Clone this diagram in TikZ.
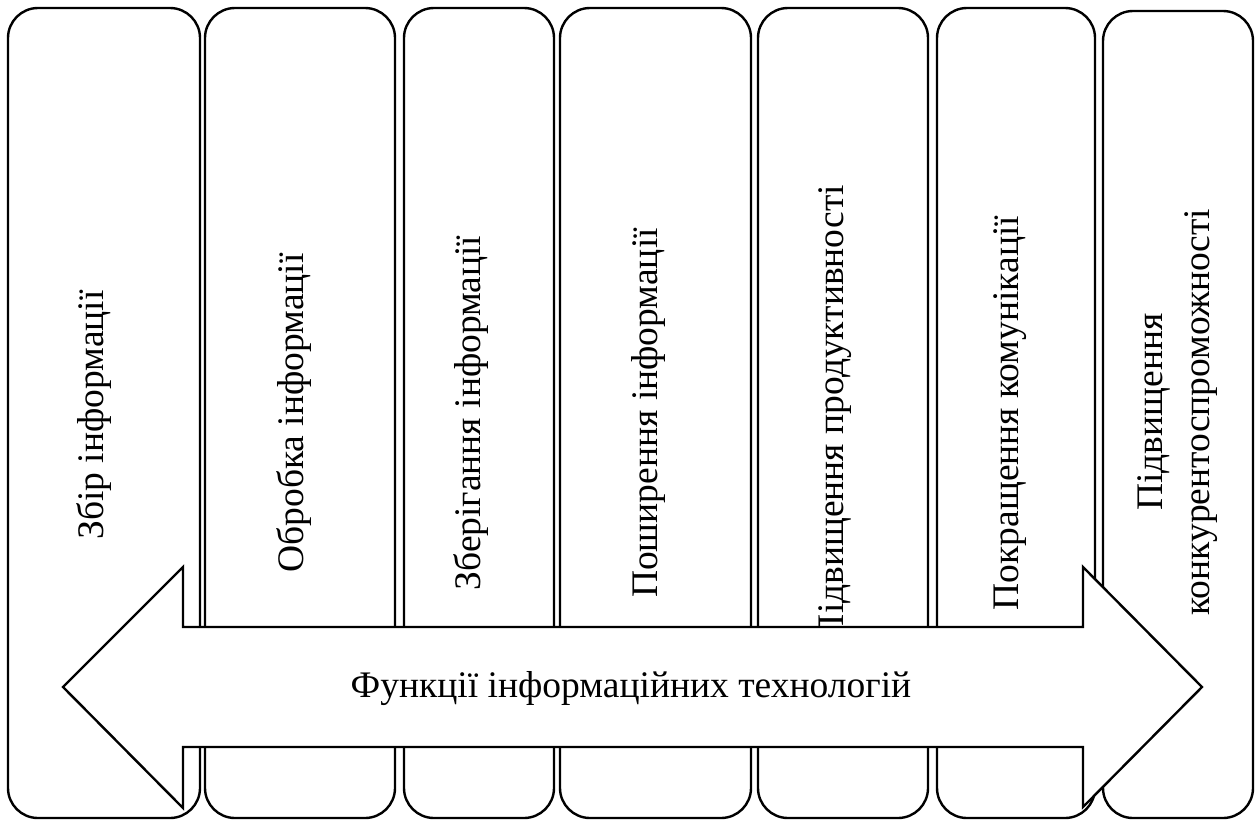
\documentclass[tikz,border=0pt]{standalone}
\usepackage{fontspec}
\setmainfont{Liberation Serif}
\begin{document}
\begin{tikzpicture}[x=1pt,y=-1pt,
  colbox/.style={draw, line width=2.4pt, rounded corners=30pt, inner sep=0pt},
  coltext/.style={rotate=90, anchor=base, inner sep=0pt, font=\fontsize{37.5}{47}\selectfont},
  bandarrow/.style={draw, line width=2.4pt, fill=white, line join=miter},
  bandtext/.style={anchor=base, inner sep=0pt, font=\fontsize{37.5}{47}\selectfont}]
\useasboundingbox (0,0) rectangle (1260,820);

% vertical columns, one per function
\node[colbox, minimum width=192pt, minimum height=810pt] (b1) at (104,413) {};
\node[colbox, minimum width=190pt, minimum height=810pt] (b2) at (300,413) {};
\node[colbox, minimum width=150pt, minimum height=810pt] (b3) at (479,413) {};
\node[colbox, minimum width=191pt, minimum height=810pt] (b4) at (655.5,413) {};
\node[colbox, minimum width=170pt, minimum height=810pt] (b5) at (843,413) {};
\node[colbox, minimum width=158pt, minimum height=810pt] (b6) at (1016,413) {};
\node[colbox, minimum width=150pt, minimum height=807pt] (b7) at (1178,414.5) {};

% column labels, reading upwards
\node[coltext] (t1) at ([xshift=-1pt,yshift=-2pt]b1.center) {Збір інформації};
\node[coltext] (t2) at ([xshift=3pt]b2.center) {Обробка інформації};
\node[coltext] (t3) at ([xshift=1pt]b3.center) {Зберігання інформації};
\node[coltext] (t4) at ([xshift=1.5pt]b4.center) {Поширення інформації};
\node[coltext] (t5) at ([xshift=0pt]b5.center) {Підвищення продуктивності};
\node[coltext] (t6) at ([xshift=2pt]b6.center) {Покращення комунікації};
\node[coltext, anchor=center, align=center] (t7) at ([xshift=0pt,yshift=2.5pt]b7.center)
  {Підвищення\\конкурентоспроможності};

% double-headed band across the columns
\coordinate (lt) at (63,687);
\coordinate (rt) at (1202,687);
\draw[bandarrow] (lt) -- (183,567) -- (183,627) -- (1083,627) -- (1083,567)
  -- (rt) -- (1083,807) -- (1083,747) -- (183,747) -- (183,808) -- cycle;
\node[bandtext] (band) at (631,697) {Функції інформаційних технологій};
\end{tikzpicture}
\end{document}
